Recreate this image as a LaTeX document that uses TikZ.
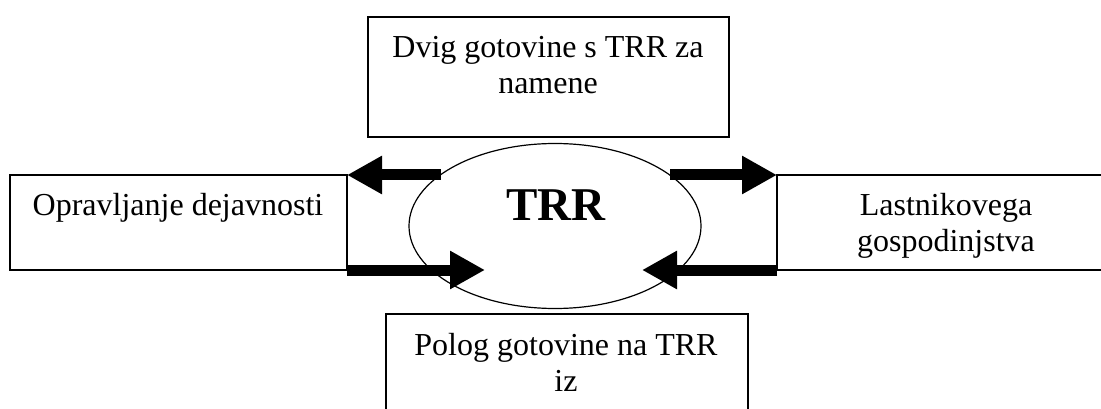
\documentclass[tikz,border=0pt]{standalone}
\usepackage{fontspec}
\setmainfont{Liberation Serif}
\usetikzlibrary{shapes.geometric,arrows.meta}
\tikzset{
  box/.style={draw, line width=1.5pt, inner sep=0pt, outer sep=0pt, fill=white, anchor=north west},
  label/.style={anchor=base, inner sep=0pt, font=\fontsize{32}{36}\selectfont},
  fat/.style={line width=11pt, -{Triangle[length=35pt,width=36pt]}},
}
\newcommand{\twolines}[2]{\begin{tabular}[t]{@{}c@{}}#1\\#2\end{tabular}}
\begin{document}
\begin{tikzpicture}[x=1pt,y=-1pt]
\useasboundingbox (0,0) rectangle (1101,409);
\clip (0,0) rectangle (1101,409);
\node[box, minimum width=361pt, minimum height=120pt] (topbox) at (368,17) {};
\node[box, minimum width=337pt, minimum height=95pt] (leftbox) at (10,175) {};
\node[box, minimum width=338pt, minimum height=95pt] (rightbox) at (777,175) {};
\node[box, minimum width=362pt, minimum height=120pt] (botbox) at (386,314) {};
\node[draw, ellipse, line width=1.2pt, fill=white, inner sep=0pt, minimum width=292pt, minimum height=165pt] (trr) at (555,226) {};
\node[label] (toptext) at (548,58) {\twolines{Dvig gotovine s TRR za}{namene}};
\node[label] (lefttext) at (178,215) {Opravljanje dejavnosti};
\node[label] (righttext) at (946,215) {\twolines{Lastnikovega}{gospodinjstva}};
\node[label] (bottext) at (566,355) {\twolines{Polog gotovine na TRR}{iz}};
\node[anchor=base, inner sep=0pt, font=\fontsize{47}{52}\selectfont\bfseries] (trrtext) at (556,221) {TRR};
\coordinate (tl) at (441,175);
\coordinate (tr) at (670,175);
\coordinate (bl) at (485,270);
\coordinate (br) at (642,270);
\draw[fat] (tl) -- (leftbox.north east);
\draw[fat] (tr) -- (rightbox.north west);
\draw[fat] (leftbox.south east) -- (bl);
\draw[fat] (rightbox.south west) -- (br);
\end{tikzpicture}
\end{document}
